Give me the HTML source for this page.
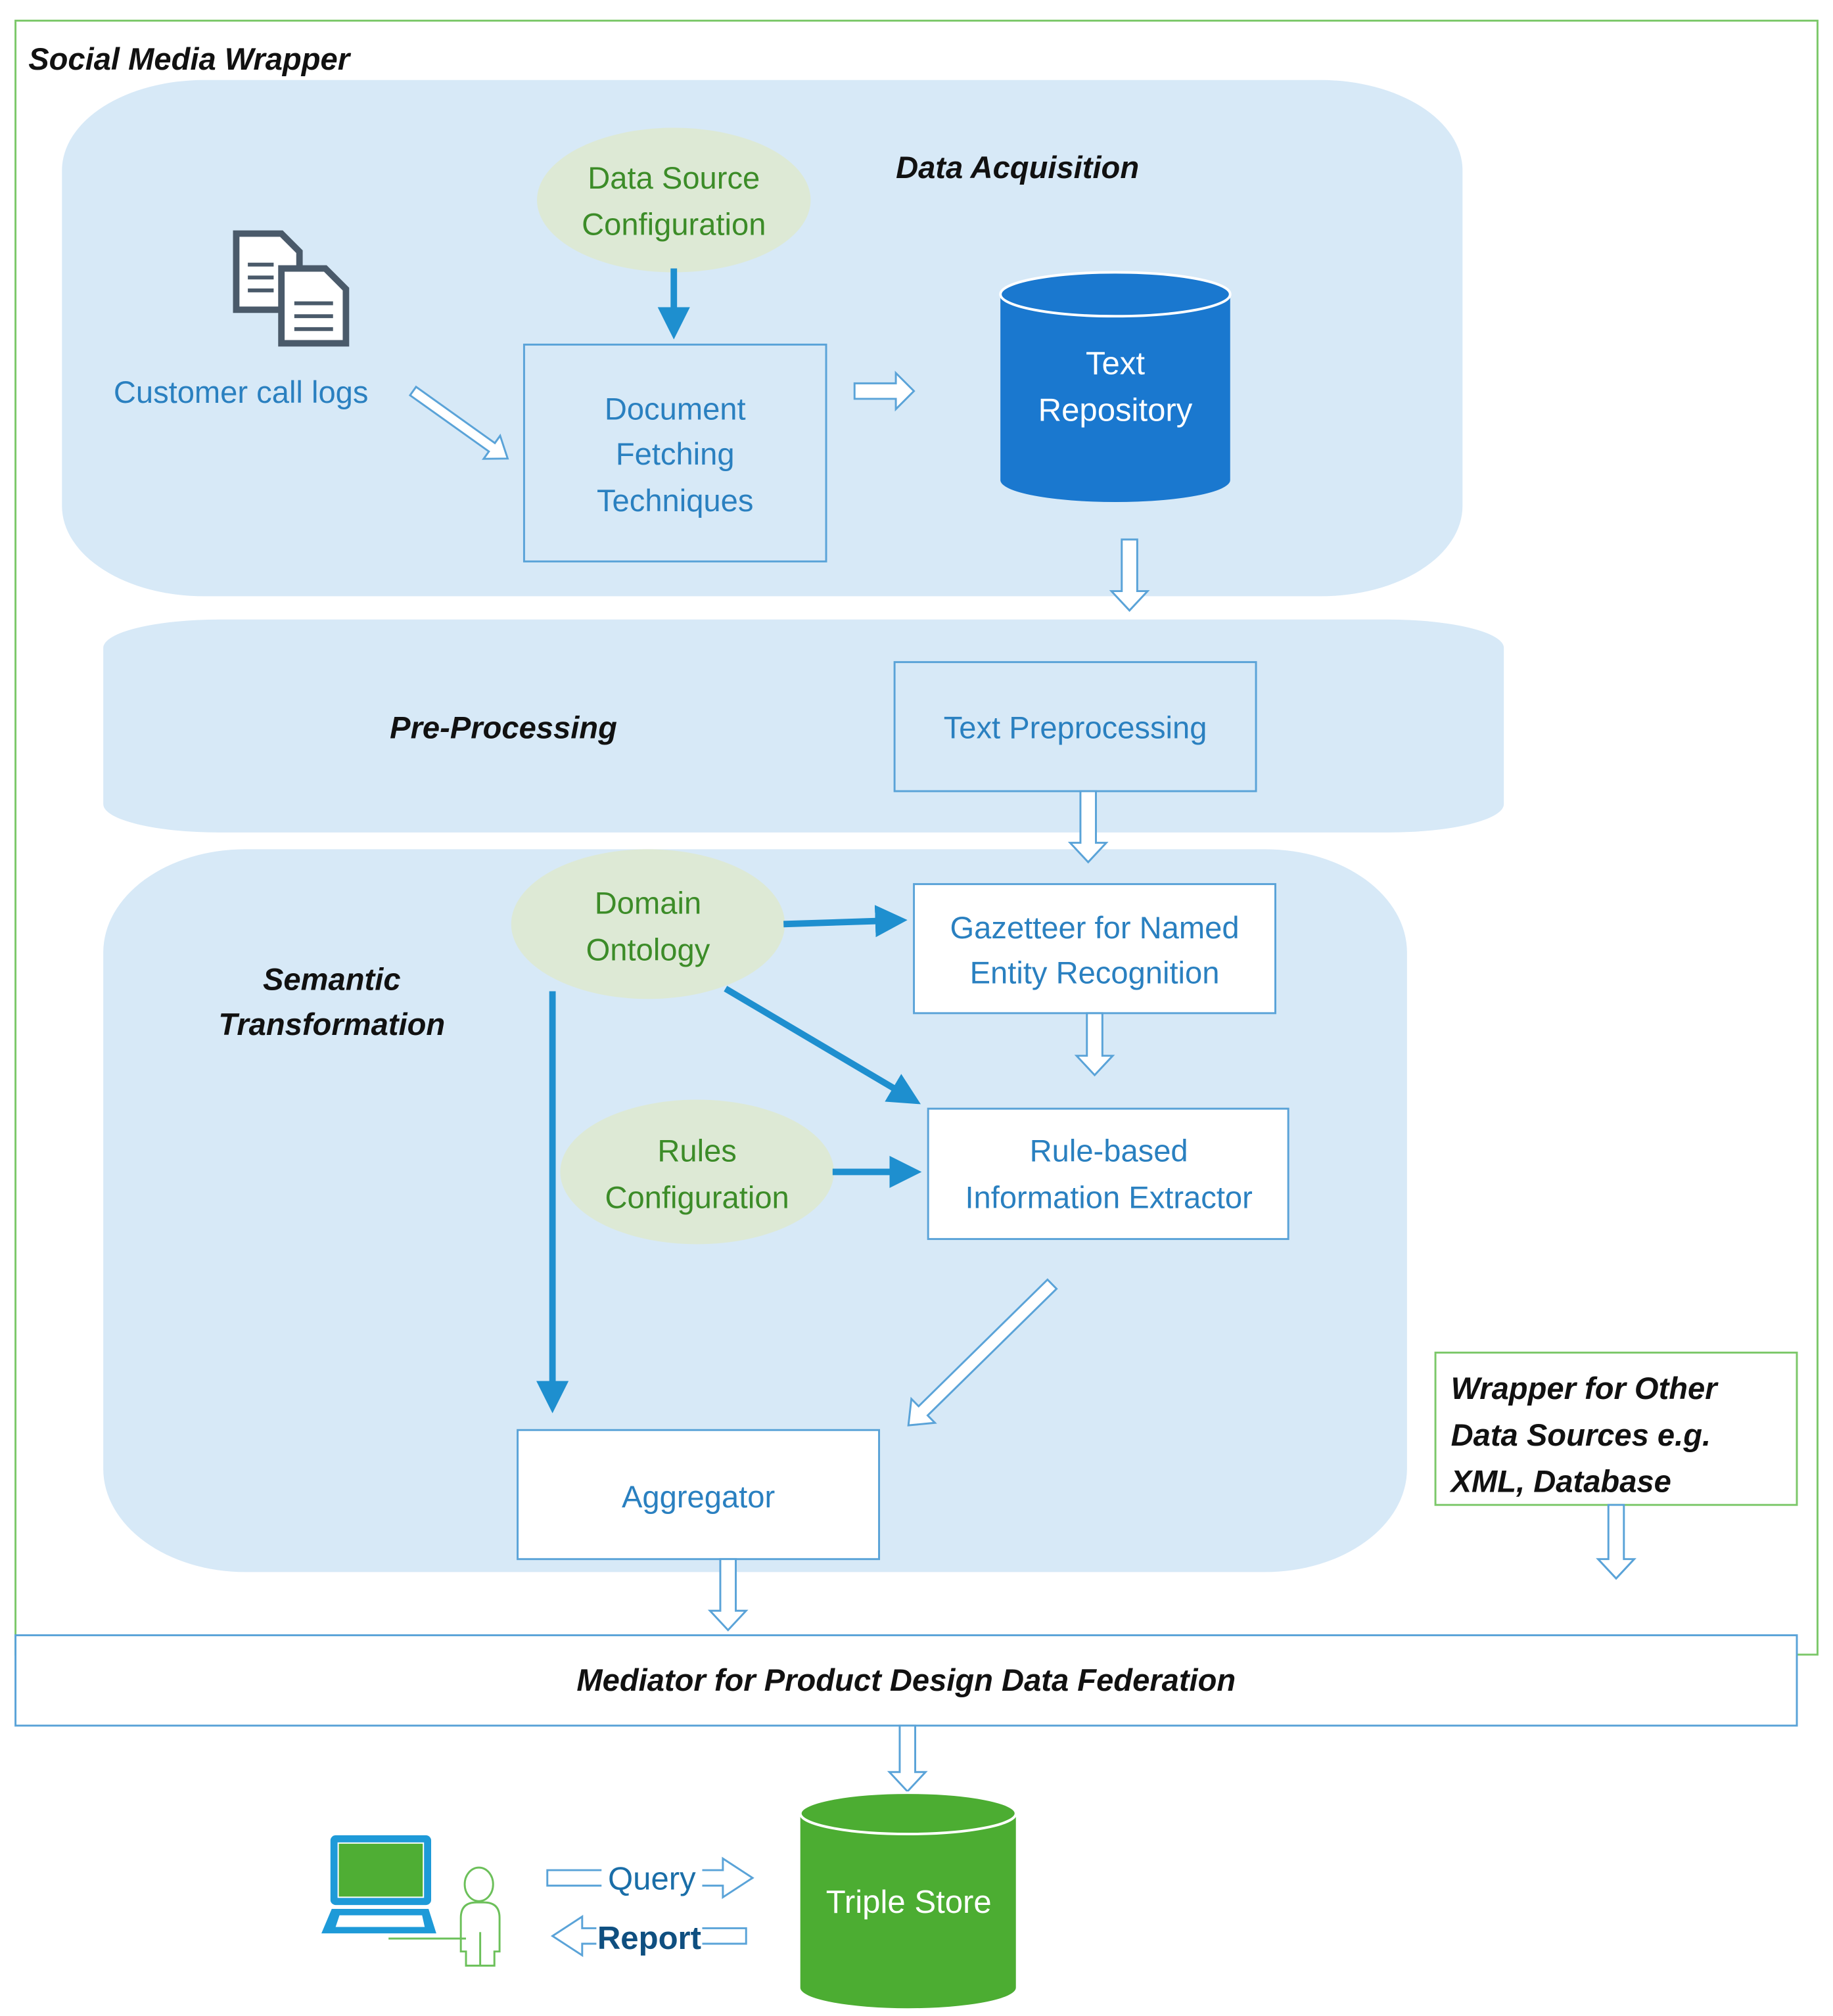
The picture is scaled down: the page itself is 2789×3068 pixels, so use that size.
<!DOCTYPE html>
<html><head><meta charset="utf-8"><style>
html,body{margin:0;padding:0;background:#fff}
svg{display:block}
text{font-family:"Liberation Sans",sans-serif}
.bl{fill:#2a80c0;font-size:24px}
.gr{fill:#3c8c28;font-size:24px}
.hd{fill:#111;font-size:24px;font-weight:bold;font-style:italic}
.ho{fill:#fff;stroke:#5aa3d8;stroke-width:1.5}
.sa{stroke:#1e8fcf;stroke-width:5;fill:none}
</style></head><body>
<svg width="2789" height="3068" viewBox="0 0 1420 1562" preserveAspectRatio="none" xmlns="http://www.w3.org/2000/svg">
<defs><marker id="ah" markerWidth="5" markerHeight="5" refX="4" refY="2.5" orient="auto" markerUnits="strokeWidth"><path d="M0,0 L5,2.5 L0,5 z" fill="#1e8fcf"/></marker></defs>
<rect width="1420" height="1562" fill="#fff"/>
<rect x="12" y="16" width="1396" height="1266" fill="none" stroke="#7cc86a" stroke-width="1.5"/>
<text x="22" y="54" class="hd">Social Media Wrapper</text>
<!-- lanes -->
<rect x="48" y="62" width="1085" height="400" rx="110" ry="70" fill="#d7e9f7"/>
<rect x="80" y="480" width="1085" height="165" rx="90" ry="22" fill="#d7e9f7"/>
<rect x="80" y="658" width="1010" height="560" rx="110" ry="80" fill="#d7e9f7"/>
<text x="694" y="138" class="hd">Data Acquisition</text>
<text x="302" y="572" class="hd">Pre-Processing</text>
<text x="257" y="767" class="hd" text-anchor="middle">Semantic</text>
<text x="257" y="802" class="hd" text-anchor="middle">Transformation</text>
<!-- doc icon -->
<g fill="#fff" stroke="#4a5a6a" stroke-width="5">
<path d="M183,181 H218 L232,195 V240 H183 Z"/>
<path d="M218,208 H252 L268,224 V266 H218 Z"/>
</g>
<g stroke="#4a5a6a" stroke-width="3"><line x1="192" y1="205" x2="212" y2="205"/><line x1="192" y1="215" x2="212" y2="215"/><line x1="192" y1="225" x2="212" y2="225"/><line x1="228" y1="235" x2="258" y2="235"/><line x1="228" y1="245" x2="258" y2="245"/><line x1="228" y1="255" x2="258" y2="255"/></g>
<text x="88" y="312" class="bl">Customer call logs</text>
<ellipse cx="522" cy="155" rx="106" ry="56" fill="#dde9d5"/>
<text x="522" y="146" class="gr" text-anchor="middle">Data Source</text>
<text x="522" y="182" class="gr" text-anchor="middle">Configuration</text>
<line x1="522" y1="208" x2="522" y2="258" class="sa" marker-end="url(#ah)"/>
<rect x="406" y="267" width="234" height="168" fill="#d7e9f7" stroke="#5aa3d8" stroke-width="1.5"/>
<text x="523" y="325" class="bl" text-anchor="middle">Document</text>
<text x="523" y="360" class="bl" text-anchor="middle">Fetching</text>
<text x="523" y="396" class="bl" text-anchor="middle">Techniques</text>
<!-- cylinder -->
<path d="M775,228 V372 A89,17 0 0 0 953,372 V228 Z" fill="#1a78cf"/>
<ellipse cx="864" cy="228" rx="89" ry="17" fill="#1a78cf" stroke="#fff" stroke-width="2"/>
<text x="864" y="290" fill="#fff" font-size="25" text-anchor="middle">Text</text>
<text x="864" y="326" fill="#fff" font-size="25" text-anchor="middle">Repository</text>
<rect x="693" y="513" width="280" height="100" fill="#d7e9f7" stroke="#5aa3d8" stroke-width="1.5"/>
<text x="833" y="572" class="bl" text-anchor="middle">Text Preprocessing</text>
<ellipse cx="502" cy="716" rx="106" ry="58" fill="#dde9d5"/>
<text x="502" y="708" class="gr" text-anchor="middle">Domain</text>
<text x="502" y="744" class="gr" text-anchor="middle">Ontology</text>
<rect x="708" y="685" width="280" height="100" fill="#fff" stroke="#5aa3d8" stroke-width="1.5"/>
<text x="848" y="727" class="bl" text-anchor="middle">Gazetteer for Named</text>
<text x="848" y="762" class="bl" text-anchor="middle">Entity Recognition</text>
<ellipse cx="540" cy="908" rx="106" ry="56" fill="#dde9d5"/>
<text x="540" y="900" class="gr" text-anchor="middle">Rules</text>
<text x="540" y="936" class="gr" text-anchor="middle">Configuration</text>
<rect x="719" y="859" width="279" height="101" fill="#fff" stroke="#5aa3d8" stroke-width="1.5"/>
<text x="859" y="900" class="bl" text-anchor="middle">Rule-based</text>
<text x="859" y="936" class="bl" text-anchor="middle">Information Extractor</text>
<rect x="401" y="1108" width="280" height="100" fill="#fff" stroke="#5aa3d8" stroke-width="1.5"/>
<text x="541" y="1168" class="bl" text-anchor="middle">Aggregator</text>
<line x1="607" y1="716" x2="698" y2="713" class="sa" marker-end="url(#ah)"/>
<line x1="562" y1="766" x2="709" y2="853" class="sa" marker-end="url(#ah)"/>
<line x1="645" y1="908" x2="709" y2="908" class="sa" marker-end="url(#ah)"/>
<line x1="428" y1="768" x2="428" y2="1090" class="sa" marker-end="url(#ah)"/>
<rect x="1112" y="1048" width="280" height="118" fill="#fff" stroke="#7cc86a" stroke-width="1.5"/>
<text x="1124" y="1084" class="hd">Wrapper for Other</text>
<text x="1124" y="1120" class="hd">Data Sources e.g.</text>
<text x="1124" y="1156" class="hd">XML, Database</text>
<rect x="12" y="1267" width="1380" height="70" fill="#fff" stroke="#5aa3d8" stroke-width="1.5"/>
<text x="702" y="1310" class="hd" text-anchor="middle">Mediator for Product Design Data Federation</text>
<!-- hollow arrows -->
<g class="ho">
<polygon points="869,418 881,418 881,458 889,458 875,473 861,458 869,458"/>
<polygon points="837,613 849,613 849,653 857,653 843,668 829,653 837,653"/>
<polygon points="842,785 854,785 854,818 862,818 848,833 834,818 842,818"/>
<polygon points="558,1208 570,1208 570,1248 578,1248 564,1263 550,1248 558,1248"/>
<polygon points="1246,1166 1258,1166 1258,1208 1266,1208 1252,1223 1238,1208 1246,1208"/>
<polygon points="697,1337 709,1337 709,1373 717,1373 703,1388 689,1373 697,1373"/>
<polygon points="662,297 694,297 694,289 708,303 694,317 694,309 662,309"/>
<polygon transform="translate(320,303) rotate(35.5)" points="0,-4 75,-4 75,-11 90,0 75,11 75,4 0,4"/>
<polygon transform="translate(815,995) rotate(135.5)" points="0,-5 140,-5 140,-13 156,0 140,13 140,5 0,5"/>
<polygon points="424,1449 560,1449 560,1440 583,1455 560,1470 560,1461 424,1461"/>
<polygon points="578,1494 451,1494 451,1485 428,1500 451,1515 451,1506 578,1506"/>
</g>
<rect x="466" y="1440" width="78" height="30" fill="#fff"/>
<text x="505" y="1464" fill="#1a6ea8" font-size="25" text-anchor="middle">Query</text>
<rect x="462" y="1486" width="82" height="30" fill="#fff"/>
<text x="503" y="1510" fill="#0f4f80" font-size="25" font-weight="bold" text-anchor="middle">Report</text>
<!-- laptop & person -->
<rect x="256" y="1422" width="78" height="54" rx="4" fill="#1e9ad8"/>
<rect x="262" y="1428" width="66" height="42" fill="#4fae34" stroke="#fff" stroke-width="1"/>
<path d="M257,1479 H332 L338,1498 H249 Z" fill="#1e9ad8"/>
<path d="M263,1484 H327 L329,1493 H260 Z" fill="#fff"/>
<g fill="none" stroke="#6cc05a" stroke-width="1.5">
<ellipse cx="371" cy="1460" rx="11" ry="13"/>
<path d="M357,1486 V1512 H361 V1523 H383 V1512 H387 V1486 Q387,1474 375,1474 H369 Q357,1474 357,1486 Z"/>
<line x1="301" y1="1502" x2="361" y2="1502"/>
<line x1="372" y1="1497" x2="372" y2="1523"/>
</g>
<!-- triple store -->
<path d="M620,1405 V1540 A83.5,16 0 0 0 787,1540 V1405 Z" fill="#4cad32"/>
<ellipse cx="703.5" cy="1405" rx="83.5" ry="16" fill="#4cad32" stroke="#fff" stroke-width="2"/>
<text x="704" y="1482" fill="#fff" font-size="25" text-anchor="middle">Triple Store</text>
</svg>
</body></html>
